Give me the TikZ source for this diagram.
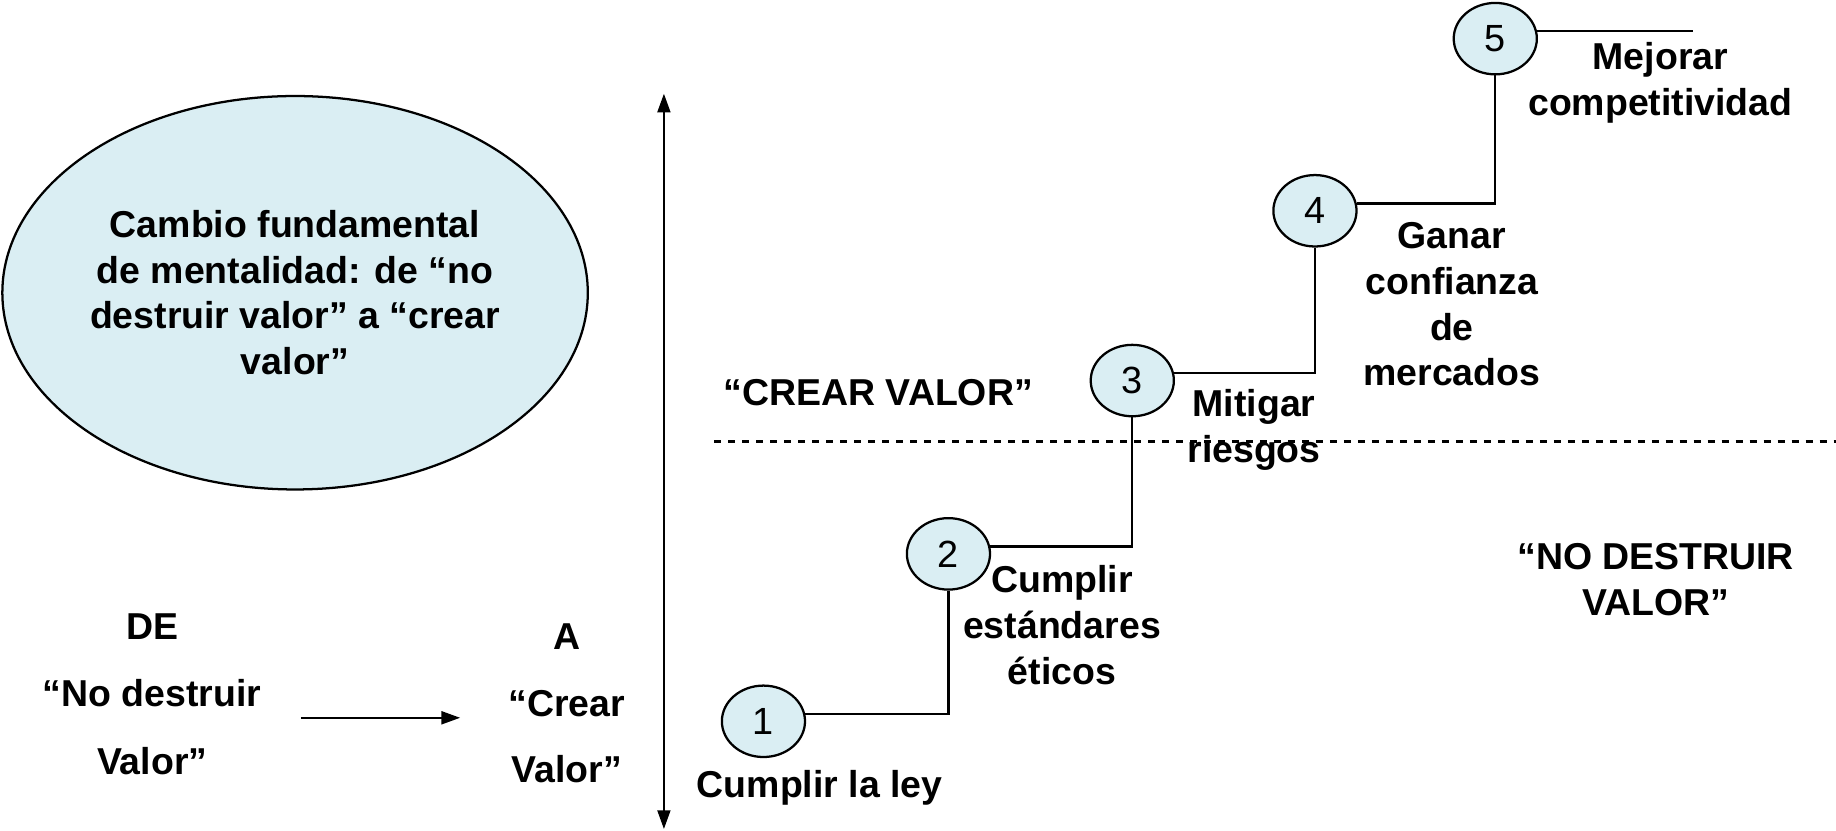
\documentclass[tikz,border=0pt]{standalone}
\usepackage{fontspec}
\setmainfont{Liberation Sans}
\usetikzlibrary{shapes,arrows.meta,positioning,calc}
\definecolor{paleblue}{HTML}{DAEEF3}
\tikzset{
  stepnum/.style={ellipse,draw,fill=paleblue,minimum width=0.71cm,minimum height=0.61cm,inner sep=0pt,font=\fontsize{9.2}{11}\selectfont},
  lbl/.style={align=center,font=\fontsize{9.1}{11.1}\selectfont\bfseries},
}
\begin{document}
\begin{tikzpicture}[line width=0.55pt,>={Triangle[length=0.16cm,width=0.11cm]}]
    \useasboundingbox (0,0) rectangle (15.68,7.09);
    % Idea bubble
    \node[ellipse,draw,fill=paleblue,minimum width=5.0cm,minimum height=3.36cm,inner sep=0pt,lbl] (idea) at (2.52,4.59)
        {Cambio fundamental\\de mentalidad: de “no\\destruir valor” a “crear\\valor”};
    % Axis
    \coordinate (axtop) at (5.67,6.29);
    \coordinate (axbot) at (5.67,0.01);
    \draw[<->] (axtop) -- (axbot);
    % From / to
    \node[lbl] (de) at (1.30,1.74) {DE};
    \node[lbl] (nodes) at (1.30,1.17) {“No destruir};
    \node[lbl] (nodesv) at (1.30,0.59) {Valor”};
    \node[lbl] (a) at (4.84,1.65) {A};
    \node[lbl] (crear) at (4.84,1.08) {“Crear};
    \node[lbl] (crearv) at (4.84,0.52) {Valor”};
    \coordinate (from) at (2.57,0.96);
    \coordinate (to) at (3.93,0.96);
    \draw[->] (from) -- (to);
    % Zones
    \node[lbl] (crearzone) at (7.50,3.74) {“CREAR VALOR”};
    \node[lbl] (nodzone) at (14.14,2.14) {“NO DESTRUIR\\VALOR”};
    \coordinate (dl) at (6.10,3.32);
    \coordinate (dr) at (15.68,3.32);
    \draw[dash pattern=on 1.7pt off 1.7pt] (dl) -- (dr);
    % Steps
    \foreach \n/\x/\y in {1/6.52/0.93, 2/8.10/2.36, 3/9.67/3.84, 4/11.23/5.29, 5/12.77/6.76}
        \node[stepnum] (s\n) at (\x,\y) {\n};
    \foreach \a/\b in {1/2, 2/3, 3/4, 4/5}
        \draw (s\a.10) -| (s\b.south);
    \coordinate (stepend) at (14.46,6.82);
    \draw (s5.10) -- (s5.10 -| stepend);
    % Step labels
    \node[lbl] (l1) at (7.00,0.36) {Cumplir la ley};
    \node[lbl] (l2) at (9.07,1.75) {Cumplir\\estándares\\éticos};
    \node[lbl] (l3) at (10.71,3.42) {Mitigar\\riesgos};
    \node[lbl] (l4) at (12.40,4.49) {Ganar\\confianza\\de\\mercados};
    \node[lbl] (l5) at (14.18,6.38) {Mejorar\\competitividad};
\end{tikzpicture}
\end{document}
